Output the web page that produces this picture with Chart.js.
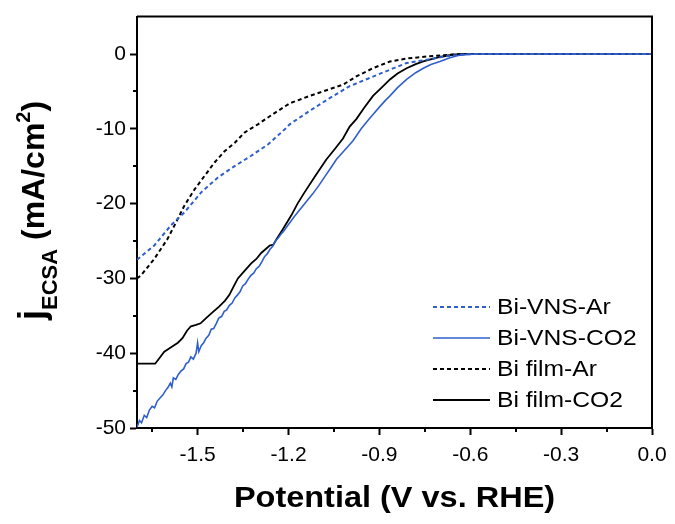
<!DOCTYPE html>
<html>
<head>
<meta charset="utf-8">
<script src="https://cdn.jsdelivr.net/npm/chart.js@4/dist/chart.umd.min.js"></script>
<style>
html, body { margin: 0; padding: 0; background: #fff; }
</style>
</head>
<body>
<canvas id="c" width="675" height="524"></canvas>
<script>
const seriesLabels = ['Bi-VNS-Ar', 'Bi-VNS-CO2', 'Bi film-Ar', 'Bi film-CO2'];

const vnsArV = [-1.700, -1.643, -1.588, -1.544, -1.488, -1.433, -1.378, -1.323, -1.268, -1.213, -1.196, -1.130, -1.064, -0.998, -0.932, -0.865, -0.810, -0.733, -0.678, -0.620, -0.580, 0];
const vnsArJ = [-27.5, -25.6, -22.9, -21.2, -18.5, -16.5, -15.0, -13.6, -12.1, -10.1, -9.4, -7.6, -5.9, -4.3, -3.2, -2.1, -1.2, -0.7, -0.3, -0.05, 0, 0];

const vnsCo2V = [-1.700, -1.692, -1.685, -1.676, -1.668, -1.659, -1.650, -1.642, -1.633, -1.624, -1.615, -1.606, -1.598, -1.590, -1.585, -1.580, -1.572, -1.563, -1.555, -1.546, -1.538, -1.530, -1.522, -1.514, -1.505, -1.500, -1.496, -1.488, -1.480, -1.472, -1.463, -1.455, -1.447, -1.438, -1.430, -1.421, -1.412, -1.404, -1.395, -1.386, -1.377, -1.368, -1.360, -1.351, -1.342, -1.333, -1.324, -1.315, -1.306, -1.297, -1.288, -1.279, -1.270, -1.261, -1.252, -1.243, -1.234, -1.225, -1.216, -1.200, -1.180, -1.160, -1.140, -1.120, -1.100, -1.080, -1.060, -1.042, -1.020, -1.000, -0.987, -0.960, -0.940, -0.921, -0.900, -0.880, -0.865, -0.840, -0.810, -0.780, -0.755, -0.730, -0.700, -0.667, -0.640, -0.610, -0.580, 0];
const vnsCo2J = [-49.9, -49.0, -49.3, -48.3, -48.6, -47.6, -47.1, -47.3, -46.4, -46.0, -45.6, -45.0, -44.6, -44.0, -44.5, -43.3, -43.5, -42.8, -42.4, -42.1, -41.4, -41.2, -40.5, -40.8, -40.0, -38.6, -39.8, -39.0, -38.6, -38.0, -37.6, -36.8, -36.7, -36.0, -35.3, -35.1, -34.4, -34.2, -33.6, -33.3, -32.6, -32.2, -31.8, -31.0, -30.7, -30.1, -29.6, -29.3, -28.7, -28.4, -27.8, -27.1, -26.7, -26.1, -25.7, -25.0, -24.6, -24.1, -23.7, -22.8, -21.7, -20.7, -19.7, -18.7, -17.6, -16.4, -15.2, -14.1, -13.1, -12.2, -11.6, -10.0, -9.0, -8.1, -7.1, -6.2, -5.6, -4.5, -3.4, -2.5, -1.9, -1.4, -1.0, -0.5, -0.2, -0.05, 0, 0];

const filmArV = [-1.700, -1.687, -1.643, -1.599, -1.571, -1.544, -1.510, -1.477, -1.444, -1.411, -1.378, -1.345, -1.301, -1.246, -1.196, -1.130, -1.064, -1.020, -0.976, -0.921, -0.865, -0.810, -0.733, -0.650, -0.600, 0];
const filmArJ = [-30.0, -29.6, -27.4, -24.7, -22.5, -20.3, -18.1, -16.3, -14.5, -13.0, -11.9, -10.5, -9.4, -7.9, -6.6, -5.6, -4.7, -4.1, -3.0, -1.9, -1.0, -0.6, -0.3, -0.05, 0, 0];

const filmCo2V = [-1.700, -1.640, -1.625, -1.610, -1.595, -1.580, -1.565, -1.550, -1.535, -1.522, -1.505, -1.490, -1.472, -1.450, -1.430, -1.410, -1.395, -1.380, -1.367, -1.345, -1.323, -1.306, -1.290, -1.273, -1.262, -1.250, -1.240, -1.218, -1.191, -1.170, -1.147, -1.110, -1.075, -1.045, -1.020, -0.998, -0.976, -0.950, -0.921, -0.890, -0.865, -0.840, -0.810, -0.780, -0.755, -0.700, -0.660, -0.620, 0];
const filmCo2J = [-41.4, -41.4, -40.6, -39.8, -39.4, -39.0, -38.6, -38.0, -37.0, -36.4, -36.2, -36.0, -35.3, -34.5, -33.8, -33.0, -32.2, -31.0, -30.0, -29.0, -28.0, -27.4, -26.6, -26.0, -25.6, -25.5, -24.8, -23.4, -21.6, -20.0, -18.5, -16.2, -14.1, -12.6, -11.3, -9.7, -8.7, -7.2, -5.6, -4.4, -3.4, -2.6, -1.9, -1.35, -1.0, -0.4, -0.1, 0, 0];

const xTicks = [-1.5, -1.2, -0.9, -0.6, -0.3, 0.0];
const xMinor = [-1.65, -1.35, -1.05, -0.75, -0.45, -0.15];
const yTicks = [-50, -40, -30, -20, -10, 0];
const yMinor = [-45, -35, -25, -15, -5];

const BLUE = '#2f5fcc';
const FONT = '"Liberation Sans", Arial, sans-serif';

const zip = (xs, ys) => xs.map((x, i) => ({ x: x, y: ys[i] }));

// text a little wider than the font, like the original export
const wideText = (ctx, text, x, y, sx) => {
  ctx.save();
  ctx.translate(x, y);
  ctx.scale(sx, 1);
  ctx.fillText(text, 0, 0);
  ctx.restore();
};

const frame = {
  id: 'frame',
  afterDraw(chart) {
    const ctx = chart.ctx;
    const a = chart.chartArea;
    const xs = chart.scales.x;
    const ys = chart.scales.y;
    ctx.save();
    ctx.strokeStyle = '#000';
    ctx.lineWidth = 2;
    ctx.beginPath();
    ctx.moveTo(a.left, a.top);
    ctx.lineTo(a.right, a.top);
    ctx.lineTo(a.right, a.bottom);
    ctx.stroke();

    // minor ticks
    ctx.beginPath();
    xMinor.forEach(v => {
      const px = Math.round(xs.getPixelForValue(v));
      ctx.moveTo(px, a.bottom);
      ctx.lineTo(px, a.bottom + 4);
    });
    yMinor.forEach(v => {
      const py = Math.round(ys.getPixelForValue(v));
      ctx.moveTo(a.left, py);
      ctx.lineTo(a.left - 4, py);
    });
    ctx.stroke();

    // legend
    const rows = [307, 338, 369, 400];
    ctx.font = '22px ' + FONT;
    ctx.textBaseline = 'middle';
    ctx.textAlign = 'left';
    ctx.fillStyle = '#000';
    chart.data.datasets.forEach((ds, i) => {
      const y = rows[i];
      ctx.strokeStyle = ds.borderColor;
      ctx.lineWidth = ds.borderWidth;
      ctx.setLineDash(ds.borderDash || []);
      ctx.beginPath();
      ctx.moveTo(433, y);
      ctx.lineTo(490, y);
      ctx.stroke();
      ctx.setLineDash([]);
      wideText(ctx, ds.label, 497, y + 1, 1.12);
    });

    // x title
    ctx.font = 'bold 29px ' + FONT;
    ctx.textBaseline = 'middle';
    const title = 'Potential (V vs. RHE)';
    const sx = 1.12;
    const w = ctx.measureText(title).width * sx;
    wideText(ctx, title, (a.left + a.right) / 2 - w / 2, 499, sx);

    // y title with sub/superscript, drawn upward from the bottom end
    const parts = [
      ['j', 'bold 36px', 0],
      ['ECSA', 'bold 22px', 13],
      [' (mA/cm', 'bold 32px', 0],
      ['2', 'bold 20px', -14],
      [')', 'bold 32px', 0]
    ];
    ctx.translate(44, 320);
    ctx.rotate(-Math.PI / 2);
    ctx.textAlign = 'left';
    ctx.textBaseline = 'alphabetic';
    let cx = 0;
    parts.forEach(p => {
      ctx.font = p[1] + ' ' + FONT;
      ctx.fillText(p[0], cx, p[2]);
      cx += ctx.measureText(p[0]).width;
    });
    ctx.restore();
  }
};

new Chart(document.getElementById('c'), {
  type: 'line',
  data: {
    datasets: [
      { label: seriesLabels[0], data: zip(vnsArV, vnsArJ), borderColor: BLUE, borderWidth: 2, borderDash: [4, 3] },
      { label: seriesLabels[1], data: zip(vnsCo2V, vnsCo2J), borderColor: BLUE, borderWidth: 1.6 },
      { label: seriesLabels[2], data: zip(filmArV, filmArJ), borderColor: '#000', borderWidth: 2, borderDash: [4, 3] },
      { label: seriesLabels[3], data: zip(filmCo2V, filmCo2J), borderColor: '#000', borderWidth: 1.8 }
    ]
  },
  options: {
    responsive: false,
    animation: false,
    devicePixelRatio: 1,
    layout: { padding: { left: 0, top: 13, right: 23, bottom: 0 } },
    elements: { point: { radius: 0 }, line: { tension: 0, fill: false } },
    plugins: { legend: { display: false }, tooltip: { enabled: false } },
    scales: {
      x: {
        type: 'linear',
        min: -1.7,
        max: 0,
        afterBuildTicks: s => { s.ticks = xTicks.map(v => ({ value: v })); },
        afterFit: s => { s.height = 96; },
        ticks: {
          callback: v => v.toFixed(1),
          font: { size: 21, family: FONT },
          color: '#000',
          padding: 8,
          maxRotation: 0
        },
        grid: { drawOnChartArea: false, drawTicks: true, tickLength: 7, tickWidth: 2, tickColor: '#000' },
        border: { color: '#000', width: 2 }
      },
      y: {
        min: -50,
        max: 5,
        afterBuildTicks: s => { s.ticks = yTicks.map(v => ({ value: v })); },
        afterFit: s => { s.width = 137; },
        ticks: {
          callback: v => String(v),
          font: { size: 21, family: FONT },
          color: '#000',
          padding: 4
        },
        grid: { drawOnChartArea: false, drawTicks: true, tickLength: 7, tickWidth: 2, tickColor: '#000' },
        border: { color: '#000', width: 2 }
      }
    }
  },
  plugins: [frame]
});
</script>
</body>
</html>
